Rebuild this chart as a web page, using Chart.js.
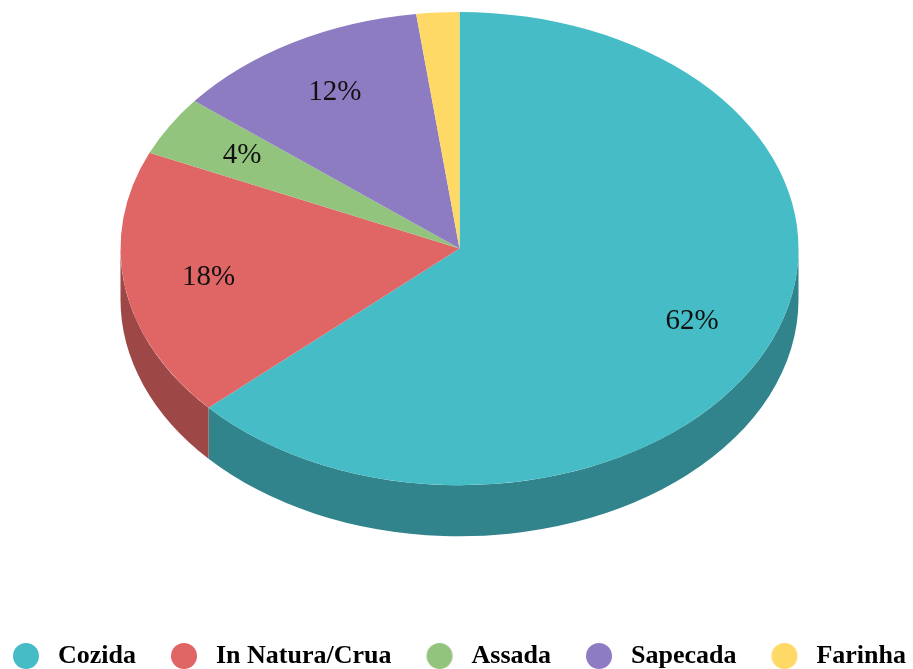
<!DOCTYPE html>
<html>
<head>
<meta charset="utf-8">
<script src="https://cdn.jsdelivr.net/npm/chart.js@4.4.1/dist/chart.umd.min.js"></script>
<style>
  html, body { margin: 0; padding: 0; background: #fff; overflow: hidden; }
  #wrap { position: absolute; left: -22px; top: 0; }
</style>
</head>
<body>
<div id="wrap"><canvas id="grafico" width="963" height="679"></canvas></div>
<script>
const categorias = ['Cozida', 'In Natura/Crua', 'Assada', 'Sapecada', 'Farinha'];
const valores = [62, 18, 4, 12, 2];
const cores = ['#46bdc6', '#e06666', '#93c47d', '#8e7cc3', '#ffd966'];

// aparência do "3D"
const raio = 339;
const inclinacao = 0.698;
const profundidade = 51;
const topoPizza = 12;

function escurecer(hex, f) {
    const n = parseInt(hex.slice(1), 16);
    const r = Math.round(((n >> 16) & 255) * f);
    const g = Math.round(((n >> 8) & 255) * f);
    const b = Math.round((n & 255) * f);
    return `rgb(${r},${g},${b})`;
}

// marcadores da legenda: círculo deslocado dentro de uma imagem mais larga
const marcadores = cores.map(cor => {
    const c = document.createElement('canvas');
    c.width = 50;
    c.height = 28;
    const g = c.getContext('2d');
    g.fillStyle = cor;
    g.beginPath();
    g.arc(36, 14, 13, 0, Math.PI * 2);
    g.fill();
    return c;
});

function centro(chart) {
    const el = chart.getDatasetMeta(0).data[0];
    const ry = el.outerRadius * inclinacao;
    return { x: el.x, y: el.y, ty: chart.chartArea.top + topoPizza + ry, r: el.outerRadius, ry: ry };
}

const pizza3d = {
    id: 'pizza3d',
    beforeDatasetsDraw(chart) {
        const ctx = chart.ctx;
        const c = centro(chart);
        const arcos = chart.getDatasetMeta(0).data;

        // lateral (só a metade da frente aparece)
        arcos.forEach((arco, i) => {
            const a = Math.max(arco.startAngle, 0);
            const b = Math.min(arco.endAngle, Math.PI);
            if (a >= b) return;
            ctx.beginPath();
            ctx.ellipse(c.x, c.ty, c.r, c.ry, 0, a, b);
            ctx.ellipse(c.x, c.ty + profundidade, c.r, c.ry, 0, b, a, true);
            ctx.closePath();
            ctx.fillStyle = escurecer(cores[i], 0.7);
            ctx.fill();
        });

        // achatar o topo
        ctx.save();
        ctx.translate(c.x, c.ty);
        ctx.scale(1, inclinacao);
        ctx.translate(-c.x, -c.y);
    },
    afterDatasetsDraw(chart) {
        const ctx = chart.ctx;
        ctx.restore();

        const c = centro(chart);
        const arcos = chart.getDatasetMeta(0).data;
        const total = valores.reduce((s, v) => s + v, 0);

        ctx.save();
        ctx.font = '29px "Liberation Serif", serif';
        ctx.fillStyle = '#111';
        ctx.textAlign = 'center';
        ctx.textBaseline = 'middle';
        arcos.forEach((arco, i) => {
            if (valores[i] / total < 0.03) return;
            const meio = (arco.startAngle + arco.endAngle) / 2;
            const x = c.x + 0.75 * c.r * Math.cos(meio);
            const y = c.ty + 0.76 * c.ry * Math.sin(meio);
            ctx.fillText(valores[i] + '%', x, y);
        });
        ctx.restore();
    }
};

const ctx = document.getElementById('grafico').getContext('2d');

new Chart(ctx, {
    type: 'pie',
    data: {
        labels: categorias,
        datasets: [{
            data: valores,
            backgroundColor: cores,
            borderWidth: 0,
            radius: raio,
            clip: false
        }]
    },
    options: {
        responsive: false,
        animation: false,
        layout: { padding: 0 },
        plugins: {
            tooltip: { enabled: false },
            legend: {
                position: 'bottom',
                align: 'start',
                labels: {
                    usePointStyle: true,
                    pointStyleWidth: 60,
                    padding: 7,
                    color: '#000',
                    font: { family: '"Liberation Serif", serif', size: 26, weight: 'bold' },
                    generateLabels(chart) {
                        const itens = Chart.overrides.pie.plugins.legend.labels.generateLabels(chart);
                        itens.forEach((item, i) => { item.pointStyle = marcadores[i]; });
                        return itens;
                    }
                }
            }
        }
    },
    plugins: [pizza3d]
});
</script>
</body>
</html>
